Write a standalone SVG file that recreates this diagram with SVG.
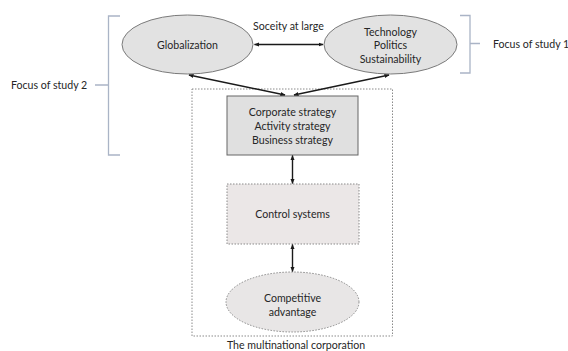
<svg xmlns="http://www.w3.org/2000/svg" width="568" height="351" viewBox="0 0 568 351">
  <style>
    text { font-family: Lato, "Liberation Sans", sans-serif; font-size: 10.6px; fill: #262626; text-anchor: middle; dominant-baseline: central; }
    .lbl { text-anchor: start; }
    .ell { fill: #e2e2e2; stroke: #7a7a7a; stroke-width: 1; }
    .dot { stroke-dasharray: 1.5 1.5; }
    .brace { fill: none; stroke: #aab4c6; stroke-width: 1.3; }
    .link { stroke: #1a1a1a; stroke-width: 1.4; fill: none; marker-start: url(#ah); marker-end: url(#ah); }
  </style>
  <defs>
    <marker id="ah" viewBox="0 0 10 10" refX="9" refY="5" markerWidth="5" markerHeight="5" markerUnits="userSpaceOnUse" orient="auto-start-reverse">
      <path d="M0,1 L10,5 L0,9 Z" fill="#1a1a1a"/>
    </marker>
  </defs>
  <rect width="568" height="351" fill="#ffffff"/>

  <!-- boundary of the corporation -->
  <g id="corporation">
    <rect x="192" y="89" width="200.5" height="247" fill="none" stroke="#8a8a8a" stroke-width="1" class="dot"/>
    <text x="296" y="345" font-size="11.2px">The multinational corporation</text>
  </g>

  <g id="globalization">
    <ellipse cx="187.5" cy="44.5" rx="65.5" ry="29.5" class="ell"/>
    <text x="187.5" y="44.5">Globalization</text>
  </g>

  <g id="environment">
    <ellipse cx="390.5" cy="44.5" rx="66.5" ry="29.5" class="ell"/>
    <text x="390.5" y="31.5">Technology</text>
    <text x="390.5" y="45">Politics</text>
    <text x="390.5" y="59">Sustainability</text>
  </g>

  <g id="society-label">
    <text x="288.5" y="26">Soceity at large</text>
  </g>

  <g id="strategy">
    <rect x="227" y="96" width="131" height="59" fill="#e0e0e0" stroke="#666" stroke-width="1"/>
    <text x="292.5" y="112">Corporate strategy</text>
    <text x="292.5" y="126">Activity strategy</text>
    <text x="292.5" y="140">Business strategy</text>
  </g>

  <g id="control">
    <rect x="227" y="184" width="132" height="60" fill="#ebe7e7" stroke="#8a8a8a" stroke-width="1" class="dot"/>
    <text x="292.5" y="214">Control systems</text>
  </g>

  <g id="advantage">
    <ellipse cx="292.5" cy="302" rx="66.5" ry="30" fill="#e8e6e6" stroke="#8a8a8a" stroke-width="1" class="dot"/>
    <text x="292.5" y="298">Competitive</text>
    <text x="292.5" y="312">advantage</text>
  </g>

  <g id="focus-2">
    <path class="brace" d="M120,16 H108.5 V85 M108.5,85 H95 M108.5,85 V155 H120"/>
    <text class="lbl" x="11" y="85">Focus of study 2</text>
  </g>

  <g id="focus-1">
    <path class="brace" d="M460,15.5 H470 V73 H460 M470,43.5 H480"/>
    <text class="lbl" x="493" y="44">Focus of study 1</text>
  </g>

  <g id="connectors">
    <path class="link" d="M254.5,44.5 H323"/>
    <path class="link" d="M189,75 L285,95"/>
    <path class="link" d="M389,75 L294,95"/>
    <path class="link" d="M292.5,155.5 V183.5"/>
    <path class="link" d="M292.5,244.5 V271.5"/>
  </g>
</svg>
